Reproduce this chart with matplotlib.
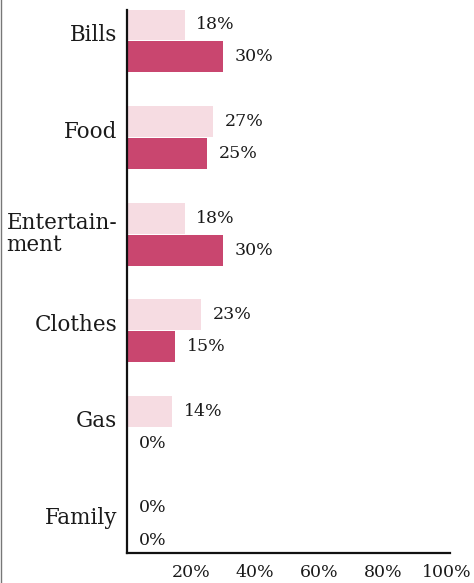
# pylint: disable=missing-docstring,invalid-name

import matplotlib
matplotlib.use('Agg')

import matplotlib.pyplot as plt
from matplotlib.lines import Line2D
import numpy as np


categories = ['Bills', 'Food', 'Entertain-\nment', 'Clothes', 'Gas', 'Family']
light_vals = [18, 27, 18, 23, 14, 0]
dark_vals = [30, 25, 30, 15, 0, 0]
xticks = [20, 40, 60, 80, 100]

LIGHT = '#f6dce2'
DARK = '#c9466f'
INK = '#1a1a1a'


def plot():
    plt.rcParams['font.family'] = ['DejaVu Serif']

    fig = plt.figure(figsize=(4.74, 5.83), dpi=100)
    axs = fig.add_axes([0.2679, 0.0515, 0.6814, 0.9314])

    y = np.arange(len(categories))
    off = 0.166
    h = 0.32

    axs.barh(y - off, light_vals, height=h, color=LIGHT)
    axs.barh(y + off, dark_vals, height=h, color=DARK)

    for yy, v in zip(y - off, light_vals):
        axs.annotate('{}%'.format(v), (v, yy), xytext=(8.5, 0),
                     textcoords='offset points', va='center', ha='left',
                     fontsize=12.5, color=INK)
    for yy, v in zip(y + off, dark_vals):
        axs.annotate('{}%'.format(v), (v, yy), xytext=(8.5, 0),
                     textcoords='offset points', va='center', ha='left',
                     fontsize=12.5, color=INK)

    # category labels, left of the axis
    trans = axs.get_yaxis_transform()
    for yy, name in zip(y, categories):
        va = 'center' if '\n' in name else 'baseline'
        axs.annotate(name, (0, yy), xycoords=trans, xytext=(-7, 0),
                     textcoords='offset points', ha='right', va=va,
                     multialignment='left', fontsize=15.5, color=INK,
                     linespacing=1.0)

    axs.set_xlim(0, 101)
    axs.set_ylim(5.30, -0.32)
    axs.set_xticks(xticks)
    axs.set_xticklabels(['{}%'.format(t) for t in xticks])
    axs.tick_params(axis='x', length=0, pad=8, labelsize=12.5, labelcolor=INK)
    axs.set_yticks([])

    for s in ('top', 'right'):
        axs.spines[s].set_visible(False)
    for s in ('left', 'bottom'):
        axs.spines[s].set_linewidth(1.6)
        axs.spines[s].set_color('#111111')

    # scan border on the far left
    fig.add_artist(Line2D([0.003, 0.003], [0, 1], transform=fig.transFigure,
                          color='#777777', lw=1))

    fig.savefig('out.png', dpi=100)


if __name__ == '__main__':
    plot()
